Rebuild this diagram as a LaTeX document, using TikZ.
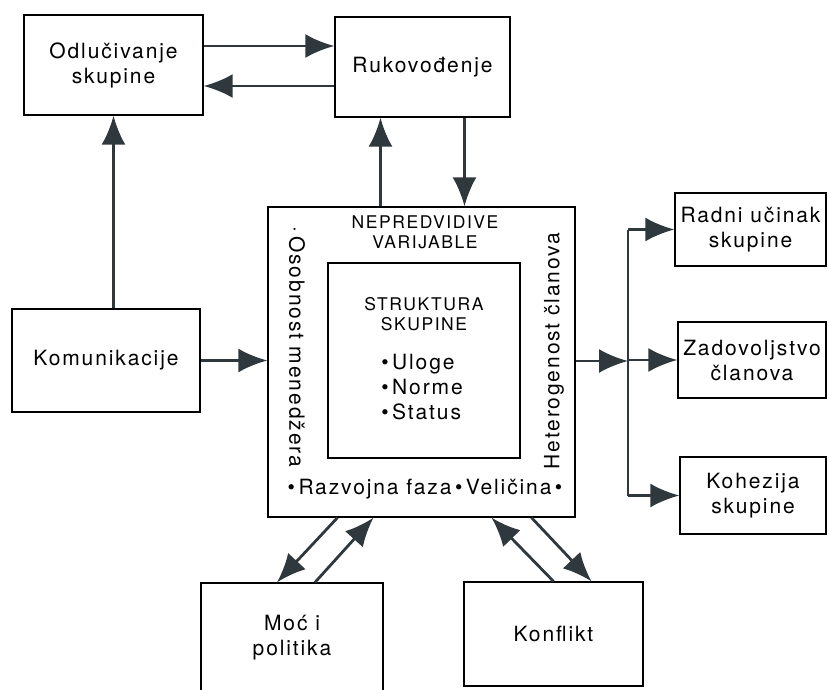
\documentclass[tikz,border=0pt]{standalone}
\usepackage{fontspec}
\setmainfont{TeX Gyre Heros}[LetterSpace=9]
\usetikzlibrary{arrows.meta}
\definecolor{tipgray}{HTML}{2E383D}
\begin{document}
\begin{tikzpicture}[x=1pt,y=-1pt,
        box/.style={draw, line width=1.3pt, inner sep=0pt, align=center,
            font=\fontsize{21}{25}\selectfont},
        arr/.style={line width=2.8pt, draw=tipgray,
            -{Latex[length=29pt,width=24pt,fill=tipgray]}},
        plain/.style={line width=2.8pt, draw=tipgray},
        caps/.style={align=center, inner sep=0pt, font=\fontsize{17.5}{20}\selectfont},
        txt/.style={inner sep=0pt, font=\fontsize{21}{25}\selectfont}]
    \useasboundingbox (0,0) rectangle (828,689);
    \node [box, minimum width=179pt, minimum height=100pt] (odl) at (113.5,65) {Odlučivanje\\skupine};
    \node [box, minimum width=175pt, minimum height=100pt] (ruk) at (422.5,67) {Rukovođenje};
    \node [box, minimum width=188pt, minimum height=103pt] (kom) at (106,360.5) {Komunikacije};
    \node [box, minimum width=307pt, minimum height=310pt] (cent) at (421.5,362) {};
    \node [box, minimum width=192pt, minimum height=195pt] (inner) at (424,360.5) {};
    \node [box, minimum width=151pt, minimum height=73pt] (rad) at (750.5,229.5) {Radni učinak\\skupine};
    \node [box, minimum width=148pt, minimum height=76pt] (zad) at (752,360) {Zadovoljstvo\\članova};
    \node [box, minimum width=146pt, minimum height=77pt] (koh) at (753,495.5) {Kohezija\\skupine};
    \node [box, minimum width=182pt, minimum height=110pt] (moc) at (292,638) {Moć i\\politika};
    \node [box, minimum width=179pt, minimum height=104pt] (kon) at (553.5,634) {Konflikt};

    \node [caps] (nep) at (425,232) {NEPREDVIDIVE\\VARIJABLE};
    \node [caps] (str) at (424,314) {STRUKTURA\\SKUPINE};
    \node [txt, align=left] (lst) at (422,387) {•\,Uloge\\•\,Norme\\•\,Status};
    \node [txt] (raz) at (425,489) {•\,Razvojna faza\,•\,Veličina\,•};
    \node [txt, rotate=-90] (oso) at (297,347) {·\,Osobnost menedžera};
    \node [txt, rotate=90] (het) at (554,351) {Heterogenost članova};

    \draw [arr] ([yshift=19pt]odl.east) -- ([yshift=19pt]odl.east -| ruk.west);
    \draw [arr] ([yshift=-19pt]ruk.west) -- ([yshift=-19pt]ruk.west -| odl.east);
    \draw [arr] (odl.south |- kom.north) -- (odl.south);
    \draw [arr] ([xshift=-42pt]ruk.south |- cent.north) -- ([xshift=-42pt]ruk.south);
    \draw [arr] ([xshift=42pt]ruk.south) -- ([xshift=42pt]ruk.south |- cent.north);
    \draw [arr] (kom.east) -- (kom.east -| cent.west);

    \coordinate (br) at (628,361);
    \draw [arr] (cent.east |- br) -- (br);
    \draw [plain] (br |- rad.west) -- (br |- koh.west);
    \foreach \t in {rad,zad,koh}
        \draw [arr] (br |- \t.west) -- (\t.west);

    \draw [arr] ([xshift=-84pt]cent.south) -- ([xshift=-15pt]moc.north);
    \draw [arr] ([xshift=23pt]moc.north) -- ([xshift=-48pt]cent.south);
    \draw [arr] (kon.north) -- ([xshift=70pt]cent.south);
    \draw [arr] ([xshift=110pt]cent.south) -- ([xshift=38pt]kon.north);
\end{tikzpicture}
\end{document}
